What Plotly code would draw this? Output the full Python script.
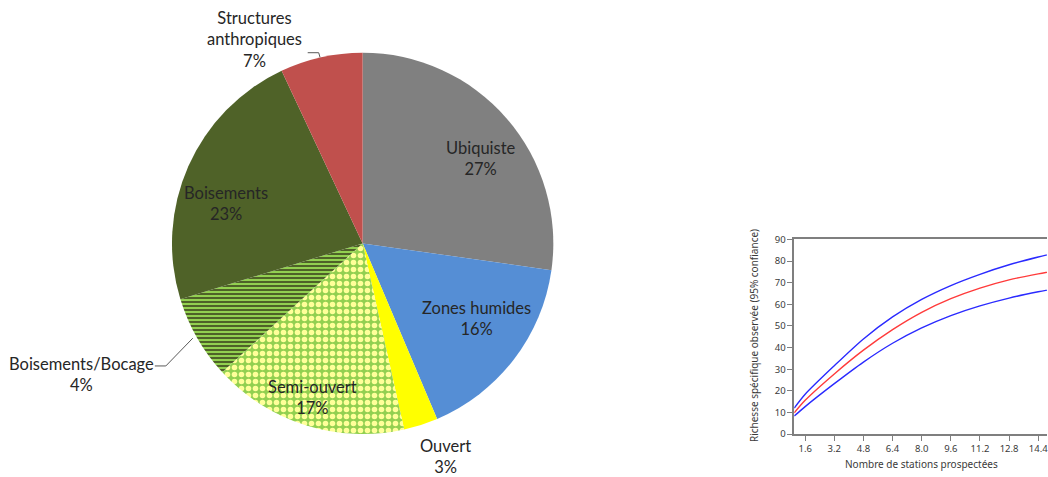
import math
import plotly.graph_objects as go

W, H = 1048, 477
OFF = 0  # body margin removed below, figure starts at page (0, 0)

# ---------------- Data ----------------
categories = ["Ubiquiste", "Zones humides", "Ouvert", "Semi-ouvert",
              "Boisements/Bocage", "Boisements", "Structures anthropiques"]
shares = [27.3, 16.4, 2.9, 16.7, 7.1, 22.8, 7.0]
pct_labels = ["27%", "16%", "3%", "17%", "4%", "23%", "7%"]
label_text = ["Ubiquiste", "Zones humides", "Ouvert", "Semi-ouvert",
              "Boisements/Bocage", "Boisements", "Structures<br>anthropiques"]

stations = [1.0, 1.6, 3.2, 4.8, 6.4, 8.0, 9.6, 11.2, 12.8, 14.4, 15.4]
rich_mean = [9.8, 15.6, 27.8, 38.8, 48.3, 56.3, 62.6, 67.5, 71.3, 74.1, 75.6]
rich_upper = [12.0, 18.4, 31.6, 44.0, 54.2, 62.3, 68.7, 73.9, 78.3, 81.9, 83.9]
rich_lower = [8.3, 12.7, 23.3, 33.3, 42.0, 49.1, 54.8, 59.3, 62.9, 65.8, 67.4]
x_tick_vals = [1.6, 3.2, 4.8, 6.4, 8.0, 9.6, 11.2, 12.8, 14.4]
x_tick_text = ["1.6", "3.2", "4.8", "6.4", "8.0", "9.6", "11.2", "12.8", "14.4"]
y_tick_vals = [0, 10, 20, 30, 40, 50, 60, 70, 80, 90]

# ---------------- Styles ----------------
slice_colors = ["#808080", "#558ED5", "#FFFF00", "#92D050", "#92D050", "#4F6228", "#C0504D"]
pat_shape = ["", "", "", ".", "-", "", ""]
pat_fg = ["#808080", "#558ED5", "#FFFF00", "#FFFF99", "#4F6228", "#4F6228", "#C0504D"]
pat_bg = ["#808080", "#558ED5", "#FFFF00", "#92D050", "#92D050", "#4F6228", "#C0504D"]
pat_size = [6, 6, 6, 7, 4, 6, 6]
pat_sol = [0.3, 0.3, 0.3, 0.5, 0.5, 0.3, 0.3]

# pie geometry (page pixels)
CX, CY, R = 363, 243, 196
# label centres (page pixels)
label_pos = [(481, 155.5), (477, 320.5), (446, 462), (313, 401.5), (82, 378), (226, 202.5), (255, 33)]
TEXT_FONT = dict(family="Lato", size=16.5, color="#262626")
SMALL_FONT = dict(family="Noto Sans", size=10, color="#3a3a3a")


def px(x):
    return (x - OFF) / W


def py(y):
    return 1 - (y - OFF) / H


fig = go.Figure()

fig.add_trace(go.Pie(
    labels=categories, values=shares, sort=False, direction="clockwise", rotation=0,
    textinfo="none", hoverinfo="label+percent", showlegend=False,
    marker=dict(colors=slice_colors, line=dict(width=0),
                pattern=dict(shape=pat_shape, fgcolor=pat_fg, bgcolor=pat_bg,
                             size=pat_size, solidity=pat_sol, fillmode="replace")),
    domain=dict(x=[px(CX - R), px(CX + R)], y=[py(CY + R), py(CY - R)]),
))

# labels
for txt, pct, (lx, ly) in zip(label_text, pct_labels, label_pos):
    fig.add_annotation(x=px(lx), y=py(ly), xref="paper", yref="paper",
                       text=f"{txt}<br>{pct}", showarrow=False, font=TEXT_FONT,
                       xanchor="center", yanchor="middle", align="center")

# leader lines: from slice mid-angle on the rim to the label
total = sum(shares)
cum = 0
mids = []
for v in shares:
    mids.append((cum + v / 2) / total * 2 * math.pi)
    cum += v


def rim(i):
    a = mids[i]
    return CX + R * math.sin(a), CY - R * math.cos(a)


leaders = {4: [(155, 369), (166, 369)], 6: [(308, 47), (319, 47)]}
for i, pts in leaders.items():
    ex, ey = rim(i)
    allp = pts + [(ex, ey)]
    path = "M " + " L ".join(f"{px(x):.5f},{py(y):.5f}" for x, y in allp)
    fig.add_shape(type="path", xref="paper", yref="paper", path=path,
                  line=dict(color="#595959", width=1))

# ---------------- Rarefaction curves ----------------
for ys, col in [(rich_upper, "#2a2aff"), (rich_lower, "#2a2aff"), (rich_mean, "#ff3b3b")]:
    fig.add_trace(go.Scatter(x=stations, y=ys, mode="lines",
                             line=dict(color=col, width=1.4, shape="spline", smoothing=0.8),
                             showlegend=False, hoverinfo="x+y", xaxis="x", yaxis="y"))

AX_COL = "#7f7f7f"
TICK_FONT = dict(family="Noto Sans", size=9.5, color="#3a3a3a")
# x axis: 1.0 at page x=795, 1.6 units per 29.16 px; the axis continues past the right edge
x_left_px = 795
units_per_px = 1.6 / 29.16
fig.update_layout(
    width=W, height=H, margin=dict(l=0, r=0, t=0, b=0),
    paper_bgcolor="white", plot_bgcolor="white",
    xaxis=dict(domain=[px(x_left_px), 1.0],
               range=[1, 1 + (OFF + W - x_left_px) * units_per_px],
               tickvals=x_tick_vals, ticktext=x_tick_text, ticklabeloverflow="allow",
               showline=True, mirror=True, linecolor=AX_COL, linewidth=1.5,
               ticks="outside", ticklen=5, tickcolor=AX_COL, showgrid=False, zeroline=False,
               tickfont=TICK_FONT, anchor="y", fixedrange=True),
    yaxis=dict(domain=[py(439), py(239)], range=[0, 90], tickvals=y_tick_vals,
               showline=True, linecolor=AX_COL, linewidth=1.5,
               ticks="outside", ticklen=5, tickcolor=AX_COL, showgrid=False, zeroline=False,
               tickfont=TICK_FONT, anchor="x", fixedrange=True),
)

fig.add_annotation(x=px(922), y=py(470), xref="paper", yref="paper", text="Nombre de stations prospectées",
                   showarrow=False, font=SMALL_FONT, xanchor="center", yanchor="middle")
fig.add_annotation(x=px(755), y=py(338), xref="paper", yref="paper",
                   text="Richesse spécifique observée (95% confiance)", textangle=-90,
                   showarrow=False, font=SMALL_FONT, xanchor="center", yanchor="middle")

fig.write_html("out.html", config={"displayModeBar": False},
               post_script="document.body.style.margin='0';document.body.style.overflow='hidden';")
